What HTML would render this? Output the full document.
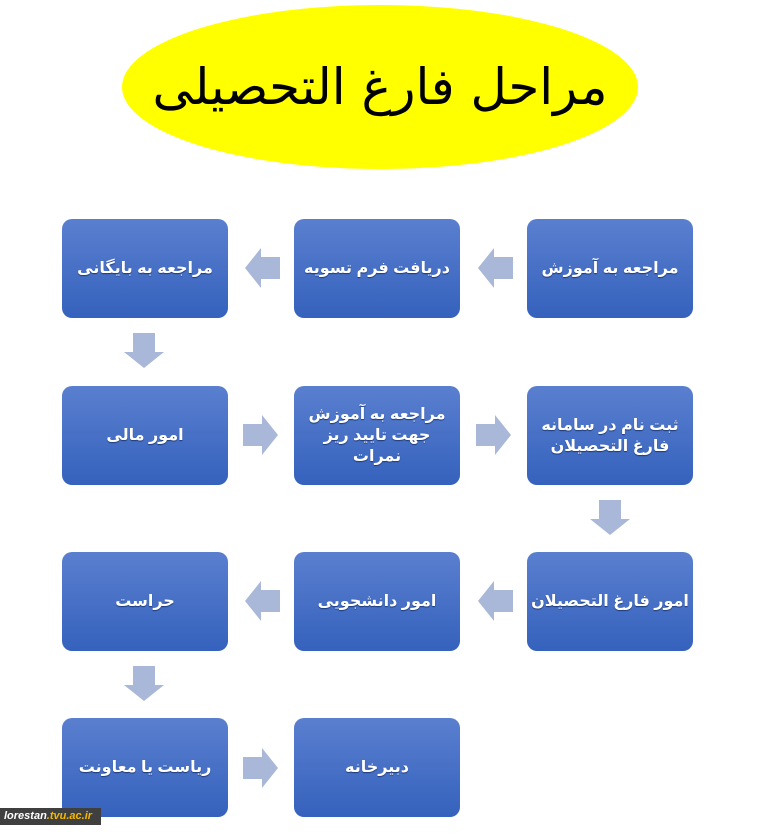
<!DOCTYPE html>
<html><head><meta charset="utf-8"><style>
body{margin:0;width:760px;height:834px;background:#fff;position:relative;overflow:hidden;font-family:"Liberation Sans","DejaVu Sans",sans-serif}
.e{position:absolute;left:122px;top:5px;width:516px;height:164px;border-radius:50%;background:#ffff00}
.t{position:absolute;left:122px;top:58px;width:516px;text-align:center;font-family:"DejaVu Serif","Liberation Serif",serif;font-size:50px;color:#000;direction:rtl}
.b{position:absolute;width:166px;height:99px;border-radius:10px;background:linear-gradient(#5a7fcf,#3562bd);color:#fff;font-weight:bold;font-size:16px;display:flex;align-items:center;justify-content:center;text-align:center;direction:rtl;line-height:21px;text-shadow:0 1px 1px #1d3a78}
svg{position:absolute;left:0;top:0}
.w{position:absolute;left:0;top:808px;width:101px;height:17px;background:#3f3f3f;color:#fff;font-size:11px;font-style:italic;font-weight:bold;line-height:17px;padding-left:4px;box-sizing:border-box}
.w span{color:#f5b800}
</style></head><body>
<div class="e"></div><div class="t">مراحل فارغ التحصیلی</div>
<div class="b" style="left:527px;top:219px">مراجعه به آموزش</div>
<div class="b" style="left:294px;top:219px">دریافت فرم تسویه</div>
<div class="b" style="left:62px;top:219px">مراجعه به بایگانی</div>
<div class="b" style="left:62px;top:386px">امور مالی</div>
<div class="b" style="left:294px;top:386px">مراجعه به آموزش<br>جهت تایید ریز<br>نمرات</div>
<div class="b" style="left:527px;top:386px">ثبت نام در سامانه<br>فارغ التحصیلان</div>
<div class="b" style="left:527px;top:552px">امور فارغ التحصیلان</div>
<div class="b" style="left:294px;top:552px">امور دانشجویی</div>
<div class="b" style="left:62px;top:552px">حراست</div>
<div class="b" style="left:62px;top:718px">ریاست یا معاونت</div>
<div class="b" style="left:294px;top:718px">دبیرخانه</div>
<svg width="760" height="834" fill="#a9b7d8">
<defs>
<polygon id="l" points="0,0 16,-20 16,-11 35,-11 35,11 16,11 16,20"/>
<polygon id="r" points="35,0 19,-20 19,-11 0,-11 0,11 19,11 19,20"/>
<polygon id="d" points="0,35 -20,19 -11,19 -11,0 11,0 11,19 20,19"/>
</defs>
<use href="#l" x="478" y="268"/><use href="#l" x="245" y="268"/>
<use href="#d" x="144" y="333"/>
<use href="#r" x="243" y="435"/><use href="#r" x="476" y="435"/>
<use href="#d" x="610" y="500"/>
<use href="#l" x="478" y="601"/><use href="#l" x="245" y="601"/>
<use href="#d" x="144" y="666"/>
<use href="#r" x="243" y="768"/>
</svg>
<div class="w">lorestan<span>.tvu.ac.ir</span></div>
</body></html>
